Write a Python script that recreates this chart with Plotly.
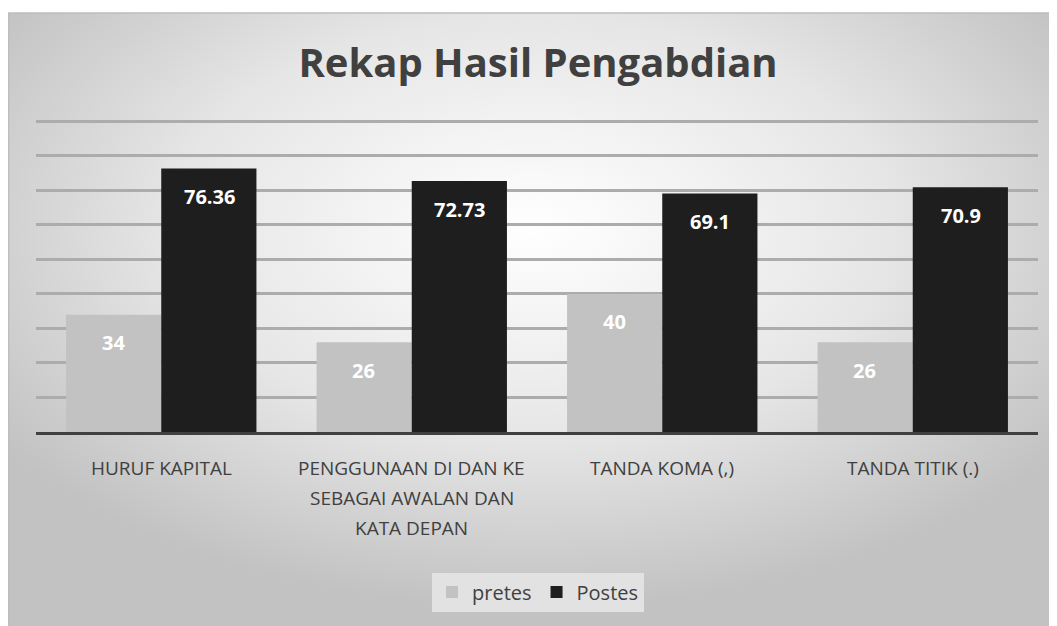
import base64
import plotly.graph_objects as go

# ---- data ----
categories = ["HURUF KAPITAL", "PENGGUNAAN DI DAN KE SEBAGAI AWALAN DAN KATA DEPAN",
              "TANDA KOMA (,)", "TANDA TITIK (.)"]
tick_lines = [["HURUF KAPITAL"],
              ["PENGGUNAAN DI DAN KE", "SEBAGAI AWALAN DAN", "KATA DEPAN"],
              ["TANDA KOMA (,)"],
              ["TANDA TITIK (.)"]]
pretes = [34, 26, 40, 26]
postes = [76.36, 72.73, 69.1, 70.9]
pretes_labels = ["34", "26", "40", "26"]
postes_labels = ["76.36", "72.73", "69.1", "70.9"]
y_max = 91  # slightly above 90 so the 90 gridline is drawn

# page body has an 8px margin; lay the figure out in reference pixel coords minus OFF
OFF = 8
W, H = 1057 - OFF, 626 - OFF
ML, MR = 36 - OFF, 19
MB = 626 - 432
PX_PER_UNIT = 3.456
MT = int(round(H - MB - y_max * PX_PER_UNIT))
PW, PH = W - ML - MR, H - MT - MB

FONT = "Open Sans"
TXT = "#404040"

fig = go.Figure()
fig.add_trace(go.Bar(x=categories, y=pretes, name="pretes",
                     marker=dict(color="#c2c2c2", line=dict(width=0))))
fig.add_trace(go.Bar(x=categories, y=postes, name="Postes",
                     marker=dict(color="#1e1e1e", line=dict(width=0))))

# background radial gradient for chart box
svg = ('<svg xmlns="http://www.w3.org/2000/svg" width="1050" height="613" '
       'viewBox="0 0 1050 613" preserveAspectRatio="none">'
       '<defs><radialGradient id="g" cx="0.5" cy="0.35" r="0.62">'
       '<stop offset="0" stop-color="#ffffff"/>'
       '<stop offset="0.55" stop-color="#e6e6e6"/>'
       '<stop offset="1" stop-color="#c2c2c2"/>'
       '</radialGradient></defs>'
       '<rect x="0" y="0" width="1050" height="613" fill="url(#g)"/></svg>')
src = "data:image/svg+xml;base64," + base64.b64encode(svg.encode()).decode()
bx0, by0 = 0.5, 13 - OFF  # figure pixel coords of chart box top-left


def px_x(p):
    return (p - ML) / PW


def px_y(p):
    return (H - MB - p) / PH


fig.add_layout_image(dict(source=src, xref="paper", yref="paper",
                          x=px_x(bx0), y=px_y(by0),
                          sizex=(W - bx0) / PW, sizey=(H - by0) / PH,
                          xanchor="left", yanchor="top", sizing="stretch",
                          layer="below"))
fig.add_shape(type="rect", xref="paper", yref="paper",
              x0=px_x(bx0), x1=px_x(W + 5), y0=px_y(H + 5), y1=px_y(by0),
              line=dict(color="#bdbdbd", width=1.5), layer="below")

annotations = []
for i, cat in enumerate(categories):
    annotations.append(dict(x=cat, y=pretes[i], xref="x", yref="y", text="<b>%s</b>" % pretes_labels[i],
                            showarrow=False, xshift=-48, yshift=-28, yanchor="middle",
                            font=dict(family=FONT, size=20, color="#ffffff")))
    annotations.append(dict(x=cat, y=postes[i], xref="x", yref="y", text="<b>%s</b>" % postes_labels[i],
                            showarrow=False, xshift=48, yshift=-28, yanchor="middle",
                            font=dict(family=FONT, size=20, color="#ffffff")))
    for j, line in enumerate(tick_lines[i]):
        annotations.append(dict(x=cat, y=0, xref="x", yref="y", text=line,
                                showarrow=False, yshift=-(36 + 30 * j), yanchor="middle",
                                font=dict(family=FONT, size=19, color=TXT)))

fig.update_layout(
    width=W, height=H,
    margin=dict(l=ML, r=MR, t=MT, b=MB),
    paper_bgcolor="#ffffff",
    plot_bgcolor="rgba(0,0,0,0)",
    barmode="group", bargap=0.24, bargroupgap=0,
    title=dict(text="<b>Rekap Hasil Pengabdian</b>", x=(538 - OFF) / W, xanchor="center",
               y=1 - (63 - OFF) / H, yanchor="middle",
               font=dict(family=FONT, size=40, color=TXT)),
    xaxis=dict(showticklabels=False, showgrid=False, showline=True,
               linecolor="#404040", linewidth=3, ticks=""),
    yaxis=dict(range=[0, y_max], tick0=0, dtick=10, showticklabels=False, showgrid=True,
               gridcolor="#acacac", gridwidth=3, zeroline=False, showline=False),
    legend=dict(orientation="h", x=px_x(538 - OFF), xanchor="center",
                y=px_y(592 - OFF), yanchor="middle",
                bgcolor="#e2e2e2", font=dict(family=FONT, size=20, color=TXT),
                itemwidth=30),
    annotations=annotations,
    showlegend=True,
)

fig.write_html("out.html")
